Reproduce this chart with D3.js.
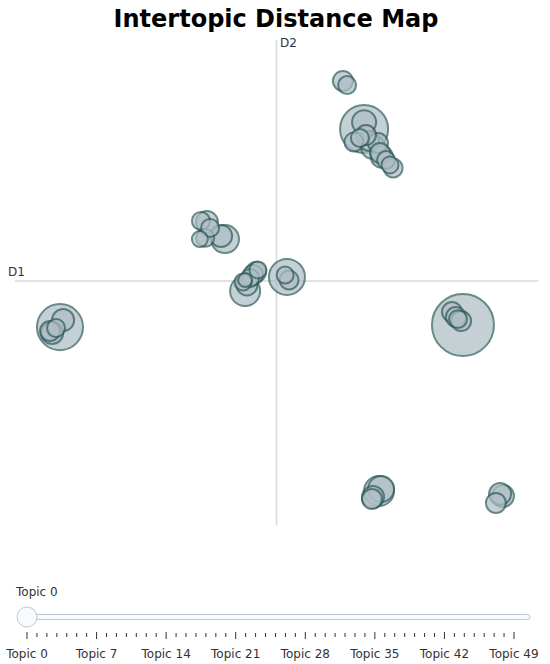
<!DOCTYPE html>
<html>
<head>
<meta charset="utf-8">
<script src="https://cdn.jsdelivr.net/npm/d3@7"></script>
<style>
  body { margin: 0; background: #fff; }
  svg { display: block; font-family: "DejaVu Sans", Verdana, sans-serif; }
</style>
</head>
<body>
<div id="map-div"></div>
<script>
// topic coordinates (D1 / D2) and topic sizes ----------------------------------------------
const topicX = [7.13, 3.35, -8.28, 0.40, -1.20, 3.92, -1.97, 4.00, 3.35, 3.69,
  -1.13, -8.16, -8.58, -8.66, 2.54, 2.70, 2.96, 3.54, 3.88, 3.96,
  4.03, 4.34, 4.46, -2.66, -2.89, -2.73, -2.93, -2.12, -0.71, -0.78,
  -0.90, -1.20, -1.28, 0.33, 0.48, 6.71, 6.86, 7.06, 3.65, 3.69,
  8.66, 8.55, 8.39, 3.42, 3.19, -1.01, -2.54, 6.94, -8.43, 4.19];
const topicY = [-1.75, 6.33, -1.84, 0.23, -0.35, -8.60, 1.79, -8.52, 6.61, 5.59,
  -0.10, -1.55, -2.08, -2.00, 8.31, 8.14, 5.79, 5.84, 5.75, 5.34,
  5.18, 4.85, 4.72, 2.49, 2.54, 1.84, 1.79, 1.92, 0.52, 0.43,
  0.31, 0.10, 0.02, 0.31, 0.10, -1.22, -1.42, -1.59, -8.93, -8.85,
  -8.80, -8.72, -9.09, 6.08, 5.96, 0.19, 2.25, -1.51, -1.88, 5.05];
const topicSize = [2500, 1500, 1380, 843, 585, 585, 510, 440, 375, 375,
  287, 315, 315, 260, 260, 210, 235, 260, 260, 260,
  315, 188, 235, 315, 210, 210, 166, 315, 188, 260,
  260, 127, 188, 188, 235, 260, 260, 260, 260, 315,
  315, 315, 260, 260, 210, 210, 210, 210, 210, 210];
const sliderLabels = d3.range(50).map(i => 'Topic ' + i);
const majorEvery = 7;

// svg ---------------------------------------------------------------------------------------
const width = 550, height = 664;
const svg = d3.select('#map-div')
  .append('svg')
  .attr('width', width)
  .attr('height', height);

const x = d3.scaleLinear().domain([-10, 10]).range([15, 538]);
const y = d3.scaleLinear().domain([-10, 10]).range([525, 40]);
const r = d3.scaleSqrt().domain([0, d3.max(topicSize)]).range([0, 31]);

// title -------------------------------------------------------------------------------------
svg.append('text')
  .attr('x', 276)
  .attr('y', 27)
  .attr('text-anchor', 'middle')
  .attr('font-size', '24px')
  .attr('font-weight', 'bold')
  .attr('fill', '#000')
  .text('Intertopic Distance Map');

// axis lines --------------------------------------------------------------------------------
svg.append('line')
  .attr('x1', x(0)).attr('x2', x(0))
  .attr('y1', y(10)).attr('y2', y(-10))
  .attr('stroke', '#D5DCDF').attr('stroke-width', 1.6);
svg.append('line')
  .attr('x1', x(-10)).attr('x2', x(10))
  .attr('y1', y(0.06)).attr('y2', y(0.06))
  .attr('stroke', '#D5DCDF').attr('stroke-width', 1.6);
svg.append('text')
  .attr('x', 8).attr('y', 276)
  .attr('font-size', '12px').attr('fill', '#333')
  .text('D1');
svg.append('text')
  .attr('x', 280).attr('y', 47)
  .attr('font-size', '12px').attr('fill', '#333')
  .text('D2');

// bubbles (largest topic first, so small ones sit on top) -----------------------------------
const topics = topicX.map((d, i) => ({ x: d, y: topicY[i], size: topicSize[i] }))
  .sort((a, b) => b.size - a.size);
svg.append('g')
  .selectAll('circle')
  .data(topics)
  .enter()
  .append('circle')
  .attr('cx', d => x(d.x))
  .attr('cy', d => y(d.y))
  .attr('r', d => r(d.size))
  .attr('fill', '#B0BEC5')
  .attr('stroke', '#2F5C5C')
  .attr('stroke-width', 2)
  .attr('opacity', 0.72);

// slider ------------------------------------------------------------------------------------
const s = d3.scalePoint().domain(sliderLabels).range([27, 514]);
svg.append('text')
  .attr('x', 16).attr('y', 596)
  .attr('font-size', '12px').attr('fill', '#333')
  .text(sliderLabels[0]);
svg.append('rect')
  .attr('x', 20).attr('y', 614.5)
  .attr('width', 510).attr('height', 5)
  .attr('rx', 2.5)
  .attr('fill', '#f8fafc')
  .attr('stroke', '#bec8d9')
  .attr('stroke-width', 1);
svg.append('g')
  .selectAll('line')
  .data(sliderLabels)
  .enter()
  .append('line')
  .attr('x1', d => s(d)).attr('x2', d => s(d))
  .attr('y1', (d, i) => i % majorEvery === 0 ? 632 : 633)
  .attr('y2', (d, i) => i % majorEvery === 0 ? 639 : 637)
  .attr('stroke', '#333')
  .attr('stroke-width', 1);
svg.append('g')
  .selectAll('text')
  .data(sliderLabels.filter((d, i) => i % majorEvery === 0))
  .enter()
  .append('text')
  .attr('x', d => s(d))
  .attr('y', 658)
  .attr('text-anchor', 'middle')
  .attr('font-size', '12px')
  .attr('fill', '#333')
  .text(d => d);
svg.append('circle')
  .attr('cx', s(sliderLabels[0]))
  .attr('cy', 617)
  .attr('r', 10)
  .attr('fill', '#f8fafc')
  .attr('stroke', '#bec8d9')
  .attr('stroke-width', 1);
</script>
</body>
</html>
